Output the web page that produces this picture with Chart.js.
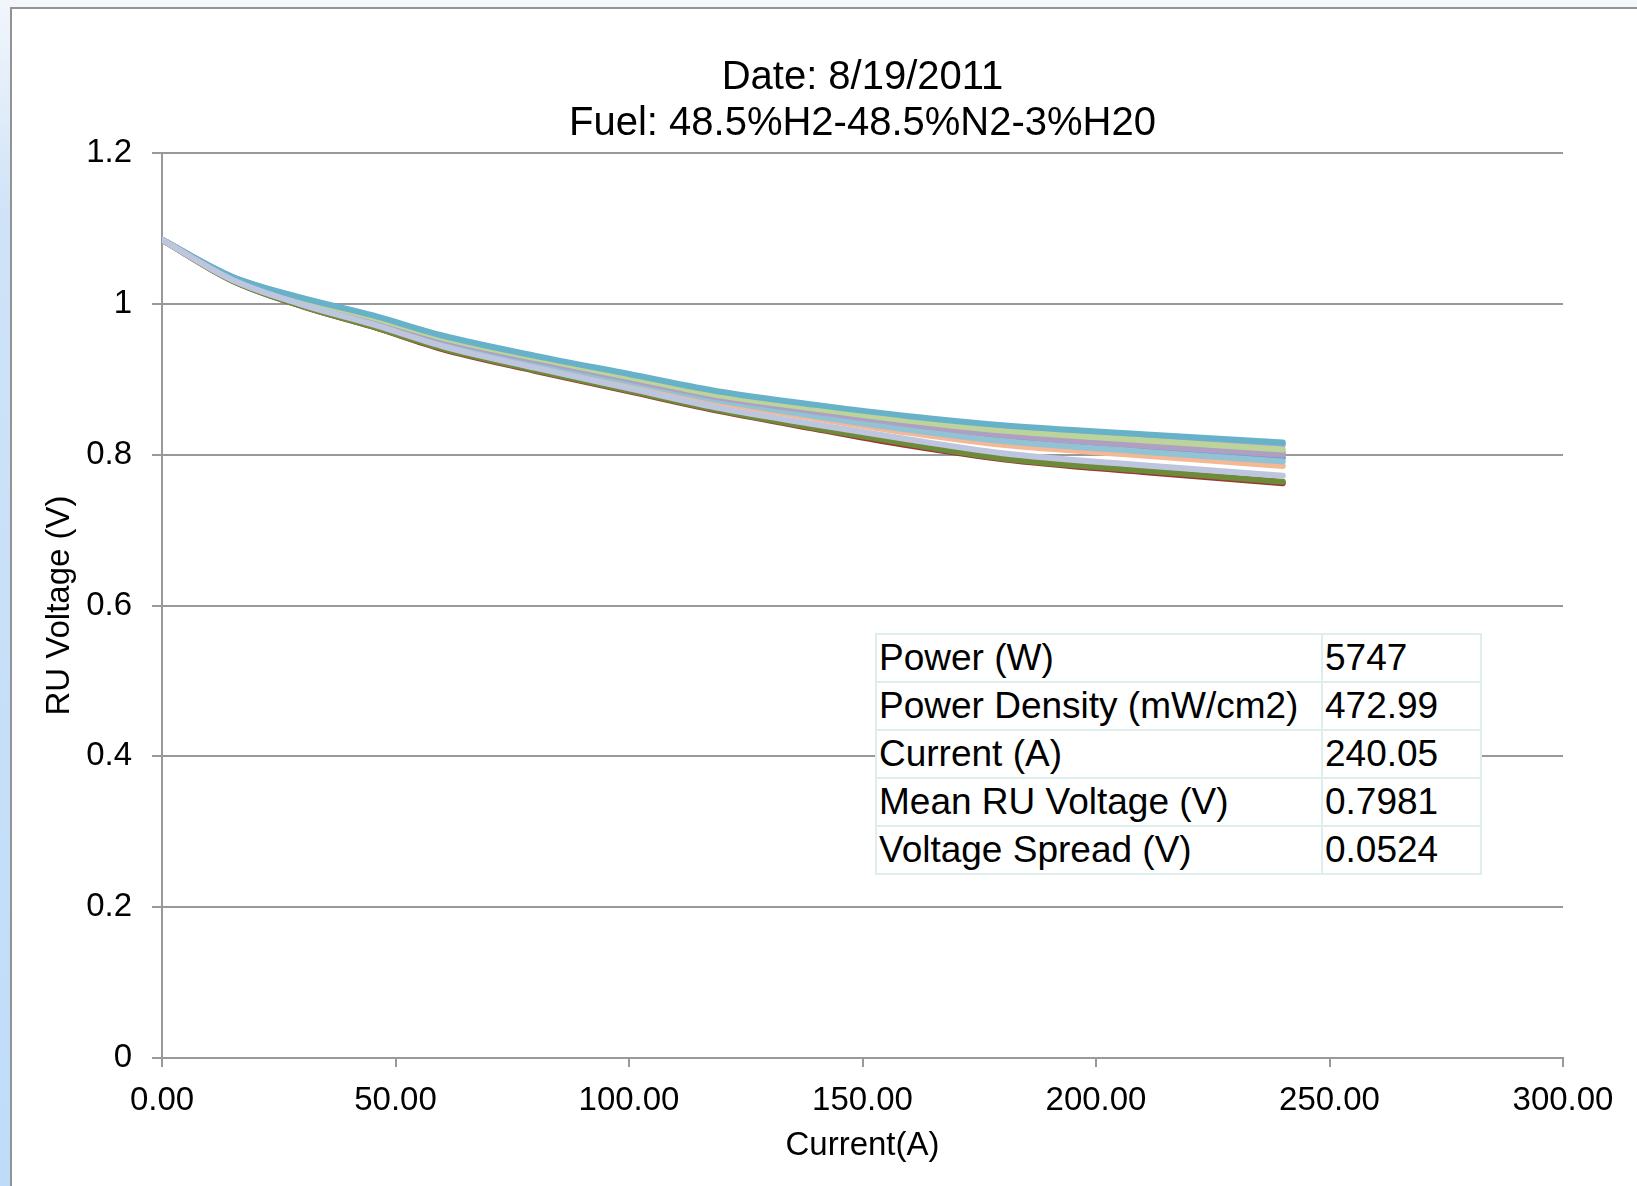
<!DOCTYPE html>
<html>
<head>
<meta charset="utf-8">
<script src="https://cdn.jsdelivr.net/npm/chart.js@4"></script>
<style>
    body { margin: 0; background: #ffffff; width: 1637px; height: 1186px; overflow: hidden; position: relative; font-family: 'Liberation Sans', Arial, sans-serif; }
    .top-strip { position: absolute; left: 0; top: 0; width: 1637px; height: 8px; background: #f3f6fb; }
    .left-strip { position: absolute; left: 0; top: 0; width: 10px; height: 1186px; background: linear-gradient(#f2f6fb 0%, #cfe3f8 18%, #bedcf9 100%); }
    .chart-frame { position: absolute; left: 10px; top: 7px; width: 1640px; height: 1200px; border-top: 2px solid #939393; border-left: 2px solid #939393; }
    #chartWrap { position: absolute; left: -21px; top: 0; width: 1658px; height: 1186px; }
    .stats-table { position: absolute; left: 875px; top: 633px; border-collapse: collapse; background: #ffffff; font-size: 37px; color: #000; }
    .stats-table td { border: 2px solid #ddeeec; height: 46px; padding: 0 2px; line-height: 46px; white-space: nowrap; }
    .stats-table td.label-cell { width: 440px; }
    .stats-table td.value-cell { width: 153px; }
</style>
</head>
<body>
<div class="top-strip"></div>
<div class="left-strip"></div>
<div class="chart-frame"></div>
<div id="chartWrap"><canvas id="ivChart" width="1658" height="1186"></canvas></div>
<table class="stats-table" id="statsTable"></table>

<script>
// current steps (A)
const currents = [0, 15, 30, 45, 60, 80, 100, 120, 140, 160, 180, 210, 240];

// RU voltages (V), one list per repeat unit
const ruLavGray = [1.085, 1.032, 0.999, 0.973, 0.944, 0.915, 0.888, 0.861, 0.840, 0.820, 0.802, 0.786, 0.772];
const ruOlive = [1.085, 1.031, 0.997, 0.970, 0.941, 0.912, 0.885, 0.858, 0.835, 0.814, 0.795, 0.779, 0.764];
const ruTeal = [1.085, 1.036, 1.008, 0.985, 0.958, 0.931, 0.907, 0.883, 0.866, 0.851, 0.839, 0.827, 0.816];
const ruGreen = [1.085, 1.035, 1.006, 0.982, 0.955, 0.928, 0.903, 0.878, 0.861, 0.845, 0.832, 0.819, 0.807];
const ruPurple = [1.085, 1.035, 1.005, 0.980, 0.953, 0.925, 0.900, 0.875, 0.857, 0.840, 0.826, 0.812, 0.800];
const ruLightBlue = [1.085, 1.034, 1.003, 0.978, 0.950, 0.922, 0.897, 0.871, 0.851, 0.833, 0.818, 0.804, 0.791];
const ruSalmon = [1.085, 1.033, 1.002, 0.976, 0.948, 0.919, 0.894, 0.868, 0.848, 0.829, 0.813, 0.799, 0.785];
const ruBlueLav = [1.085, 1.036, 1.007, 0.984, 0.957, 0.930, 0.906, 0.881, 0.865, 0.849, 0.837, 0.825, 0.813];
const ruBlue = [1.085, 1.034, 1.004, 0.979, 0.951, 0.924, 0.899, 0.873, 0.854, 0.837, 0.822, 0.809, 0.796];
const ruPink = [1.085, 1.035, 1.005, 0.981, 0.954, 0.926, 0.902, 0.876, 0.859, 0.842, 0.828, 0.815, 0.803];
const ruRed = [1.085, 1.031, 0.997, 0.970, 0.940, 0.911, 0.884, 0.857, 0.834, 0.812, 0.794, 0.777, 0.762];

// first entry is drawn on top
const seriesList = [ruLavGray, ruOlive, ruTeal, ruGreen, ruPurple, ruLightBlue, ruSalmon, ruBlueLav, ruBlue, ruPink, ruRed];
const seriesColors = ['#bdc6de', '#6e8b3a', '#68b2c9', '#bcd49a', '#ae9fc3', '#92c3d5', '#f6b893', '#9aa7d6', '#6f94cf', '#d9918e', '#9b3633'];

// summary table
const statLabels = ['Power (W)', 'Power Density (mW/cm2)', 'Current (A)', 'Mean RU Voltage (V)', 'Voltage Spread (V)'];
const statValues = ['5747', '472.99', '240.05', '0.7981', '0.0524'];

const titleLines = ['Date: 8/19/2011', 'Fuel: 48.5%H2-48.5%N2-3%H20'];
const yTickValues = [0, 0.2, 0.4, 0.6, 0.8, 1, 1.2];
const yTickLabels = ['0', '0.2', '0.4', '0.6', '0.8', '1', '1.2'];

const axisGray = '#999999';
const fontFamily = "'Liberation Sans', Arial, sans-serif";

//..build summary table
function buildTable() {
    const table = document.getElementById('statsTable');
    statLabels.forEach((label, i) => {
        const row = document.createElement('tr');
        row.innerHTML = `<td class="label-cell">${label}</td><td class="value-cell">${statValues[i]}</td>`;
        table.appendChild(row);
    });
}

//..draw the chart
function buildChart() {
    const datasets = seriesList.map((values, i) => ({
        label: 'RU ' + (i + 1),
        data: currents.map((c, j) => ({ x: c, y: values[j] })),
        borderColor: seriesColors[i],
        backgroundColor: seriesColors[i],
        borderWidth: 6,
        pointRadius: 0,
        cubicInterpolationMode: 'monotone',
        borderCapStyle: 'round',
        borderJoinStyle: 'round'
    }));

    new Chart(document.getElementById('ivChart'), {
        type: 'line',
        data: { datasets },
        options: {
            responsive: false,
            devicePixelRatio: 1,
            animation: false,
            layout: { padding: { left: 0, right: 74, top: 0, bottom: 0 } },
            plugins: {
                legend: { display: false },
                tooltip: { enabled: false },
                title: {
                    display: true,
                    fullSize: false,
                    text: titleLines,
                    color: '#000',
                    font: { family: fontFamily, size: 40, weight: 'normal', lineHeight: 46 / 40 },
                    padding: { top: 55, bottom: 6 }
                }
            },
            scales: {
                x: {
                    type: 'linear',
                    min: 0,
                    max: 300,
                    afterFit: scale => { scale.height = 128; },
                    ticks: {
                        stepSize: 50,
                        color: '#000',
                        padding: 14,
                        maxRotation: 0,
                        font: { family: fontFamily, size: 33 },
                        callback: v => v.toFixed(2)
                    },
                    grid: { drawOnChartArea: false, drawTicks: true, tickLength: 9, color: axisGray, lineWidth: 2 },
                    border: { display: true, color: axisGray, width: 2 },
                    title: {
                        display: true,
                        text: 'Current(A)',
                        color: '#000',
                        font: { family: fontFamily, size: 33 },
                        padding: { top: 0, bottom: 20 }
                    }
                },
                y: {
                    min: 0,
                    max: 1.2,
                    afterFit: scale => { scale.width = 183; },
                    afterBuildTicks: scale => { scale.ticks = yTickValues.map(v => ({ value: v })); },
                    ticks: {
                        color: '#000',
                        padding: 20,
                        font: { family: fontFamily, size: 33 },
                        callback: v => yTickLabels[yTickValues.indexOf(+v.toFixed(1))]
                    },
                    grid: { color: axisGray, lineWidth: 2, tickLength: 10 },
                    border: { display: true, color: axisGray, width: 2 },
                    title: {
                        display: true,
                        text: 'RU Voltage (V)',
                        color: '#000',
                        font: { family: fontFamily, size: 33 },
                        padding: { top: 61, bottom: 0 }
                    }
                }
            }
        }
    });
}

document.addEventListener('DOMContentLoaded', function () {
    buildTable();
    buildChart();
});
</script>
</body>
</html>
